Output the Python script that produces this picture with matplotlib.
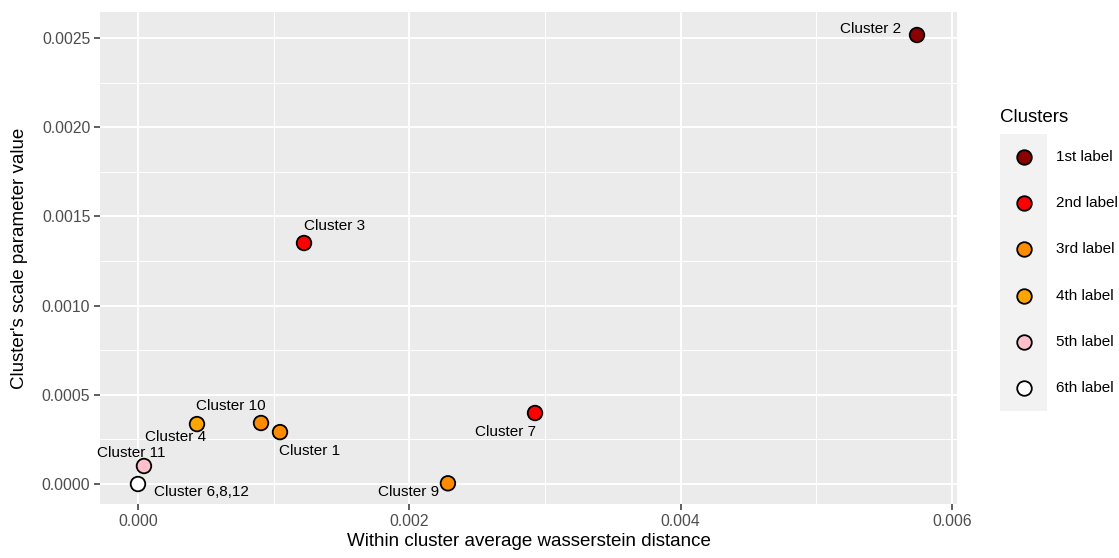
import matplotlib
matplotlib.use("Agg")
import matplotlib.pyplot as plt
from matplotlib.ticker import MultipleLocator, FormatStrFormatter

plt.rcParams['font.family'] = ['Liberation Sans', 'DejaVu Sans']

# ---- data ----
cluster_names = ["Cluster 2", "Cluster 3", "Cluster 7", "Cluster 10", "Cluster 1",
                 "Cluster 9", "Cluster 4", "Cluster 11", "Cluster 6,8,12"]
within_dist = [0.005743, 0.001224, 0.002927, 0.000907, 0.001047,
               0.002285, 0.000435, 0.000044, 0.0]
scale_param = [0.002517, 0.001351, 0.000398, 0.000342, 0.000291,
               0.000004, 0.000336, 0.000101, 0.0]
group = [1, 2, 2, 3, 3, 3, 4, 5, 6]
legend_labels = ["1st label", "2nd label", "3rd label", "4th label", "5th label", "6th label"]
group_colors = ["#8B0000", "#FF0000", "#FF8C00", "#FFA500", "#FFC0CB", "#FFFFFF"]

# label offsets (pixels) relative to each point
label_dx = [-46, 31, -30, -30, 30, -39, -21, -13, 63]
label_dy = [6, 17, -19, 17, -19, -9, -13, 13, -8]

W, H = 1119, 558
fig = plt.figure(figsize=(W / 100, H / 100), dpi=100)
ax = fig.add_axes([100 / W, (H - 504) / H, 857 / W, 492 / H])
ax.set_facecolor("#EBEBEB")
for s in ax.spines.values():
    s.set_visible(False)

ax.set_xlim(-0.00028, 0.006038)
ax.set_ylim(-0.000112, 0.002646)
ax.xaxis.set_major_locator(MultipleLocator(0.002))
ax.xaxis.set_minor_locator(MultipleLocator(0.001))
ax.yaxis.set_major_locator(MultipleLocator(0.0005))
ax.yaxis.set_minor_locator(MultipleLocator(0.00025))
ax.xaxis.set_major_formatter(FormatStrFormatter("%.3f"))
ax.yaxis.set_major_formatter(FormatStrFormatter("%.4f"))
ax.grid(which="major", color="white", linewidth=1.4)
ax.grid(which="minor", color="white", linewidth=0.7)
ax.set_axisbelow(True)
ax.tick_params(which="major", length=4, width=1.1, color="#333333",
               labelcolor="#4D4D4D", labelsize=11.3, pad=3)
ax.tick_params(which="minor", length=0)

ax.set_xlabel("Within cluster average wasserstein distance", fontsize=13.5, labelpad=3)
ax.set_ylabel("Cluster's scale parameter value", fontsize=13.5, labelpad=10)

cols = [group_colors[g - 1] for g in group]
ax.scatter(within_dist, scale_param, s=110, c=cols, edgecolors="black",
           linewidths=1.3, zorder=3, clip_on=False)

for name, x, y, dx, dy in zip(cluster_names, within_dist, scale_param, label_dx, label_dy):
    ax.annotate(name, (x, y), xytext=(dx, dy), textcoords="offset pixels",
                ha="center", va="center", fontsize=11, color="black", zorder=4)

# ---- legend (ggplot style) ----
fig.text(1000 / W, 1 - 117 / H, "Clusters", fontsize=13.5, ha="left", va="center")
lax = fig.add_axes([1000 / W, (H - 411) / H, 47 / W, 277 / H])
lax.set_facecolor("#F2F2F2")
lax.set_xlim(0, 1)
lax.set_ylim(len(legend_labels), 0)
lax.set_xticks([])
lax.set_yticks([])
for s in lax.spines.values():
    s.set_visible(False)
for i, (lab, col) in enumerate(zip(legend_labels, group_colors)):
    lax.scatter([0.5], [i + 0.5], s=110, c=[col], edgecolors="black", linewidths=1.3)
    lax.text(1.19, i + 0.5, lab, fontsize=11, ha="left", va="center",
             transform=lax.transData, clip_on=False)

fig.savefig("out.png", dpi=100)
